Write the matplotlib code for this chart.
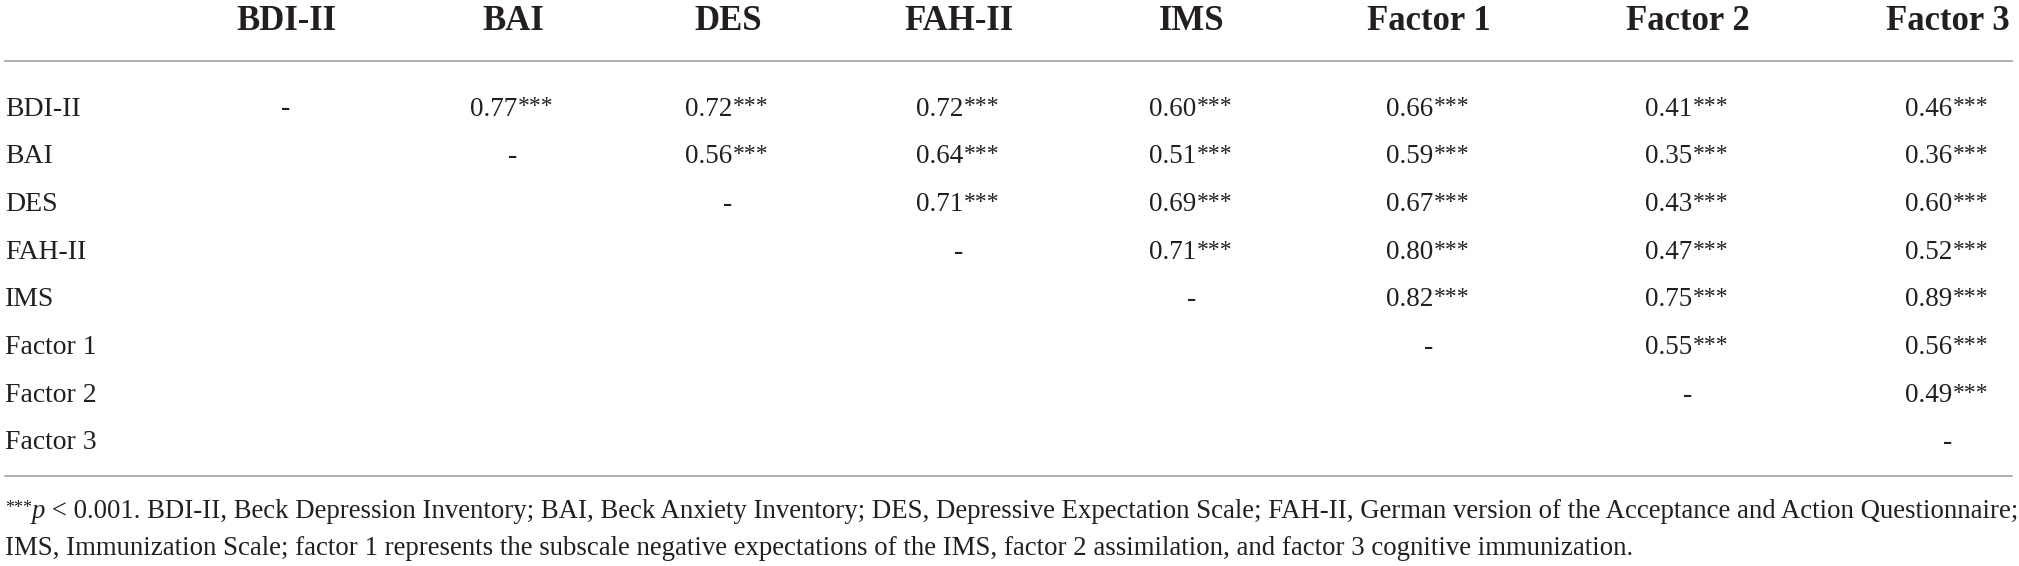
import numpy as np
import matplotlib
matplotlib.use("Agg")
import matplotlib.pyplot as plt

plt.rcParams['font.family'] = ['Liberation Serif', 'DejaVu Serif']

# Datos de la tabla
variables = ["BDI-II", "BAI", "DES", "FAH-II", "IMS", "Factor 1", "Factor 2", "Factor 3"]

# correlaciones (triangulo superior, fila por fila)
r_bdi = [0.77, 0.72, 0.72, 0.60, 0.66, 0.41, 0.46]
r_bai = [0.56, 0.64, 0.51, 0.59, 0.35, 0.36]
r_des = [0.71, 0.69, 0.67, 0.43, 0.60]
r_fah = [0.71, 0.80, 0.47, 0.52]
r_ims = [0.82, 0.75, 0.89]
r_f1 = [0.55, 0.56]
r_f2 = [0.49]
r_f3 = []
filas = [r_bdi, r_bai, r_des, r_fah, r_ims, r_f1, r_f2, r_f3]
signif = "***"

nota_p = "p"
nota_1 = (" < 0.001. BDI-II, Beck Depression Inventory; BAI, Beck Anxiety Inventory; "
          "DES, Depressive Expectation Scale; FAH-II, German version of the Acceptance "
          "and Action Questionnaire;")
nota_2 = ("IMS, Immunization Scale; factor 1 represents the subscale negative expectations "
          "of the IMS, factor 2 assimilation, and factor 3 cognitive immunization.")

# Layout (en pixeles)
W, H = 2019, 566
col_x = [286, 513, 728, 959, 1192, 1429, 1688, 1948]
y_head = 30.5
y0, dy = 115.5, 47.7
color_txt = "#231f20"
color_linea = "#9a9a9a"
fs_nota = 19.3

fig = plt.figure(figsize=(W / 100, H / 100), dpi=100)
ax = fig.add_axes([0, 0, 1, 1])
ax.set_xlim(0, W)
ax.set_ylim(H, 0)
ax.axis("off")

# encabezado
for x, nombre in zip(col_x, variables):
    ax.text(x, y_head, nombre, ha="center", va="baseline", fontsize=25,
            fontweight="bold", color=color_txt)

ax.plot([5, 2012], [61, 61], color=color_linea, lw=1.1)
ax.plot([5, 2012], [476, 476], color=color_linea, lw=1.1)

# filas
for i, (nombre, vals) in enumerate(zip(variables, filas)):
    y = y0 + i * dy
    ax.text(5, y, nombre, ha="left", va="baseline", fontsize=20, color=color_txt)
    ax.text(col_x[i], y, "-", ha="center", va="baseline", fontsize=20, color=color_txt)
    for j, v in enumerate(vals):
        x = col_x[i + 1 + j]
        ax.text(x + 4, y, f"{v:.2f}", ha="right", va="baseline", fontsize=19.5,
                color=color_txt)
        ax.text(x + 5, y - 3, signif, ha="left", va="baseline", fontsize=17,
                color=color_txt)

# nota al pie
t_st = ax.text(5, 513, signif, ha="left", va="baseline", fontsize=13, color=color_txt)
t_p = ax.annotate(nota_p, xy=(1, 518), xycoords=(t_st, "data"), ha="left",
                  va="baseline", fontsize=fs_nota, style="italic", color=color_txt)
ax.annotate(nota_1, xy=(1, 518), xycoords=(t_p, "data"), ha="left",
            va="baseline", fontsize=fs_nota, color=color_txt)
ax.text(5, 555, nota_2, ha="left", va="baseline", fontsize=fs_nota, color=color_txt)

fig.savefig("out.png", dpi=100, facecolor="white")
